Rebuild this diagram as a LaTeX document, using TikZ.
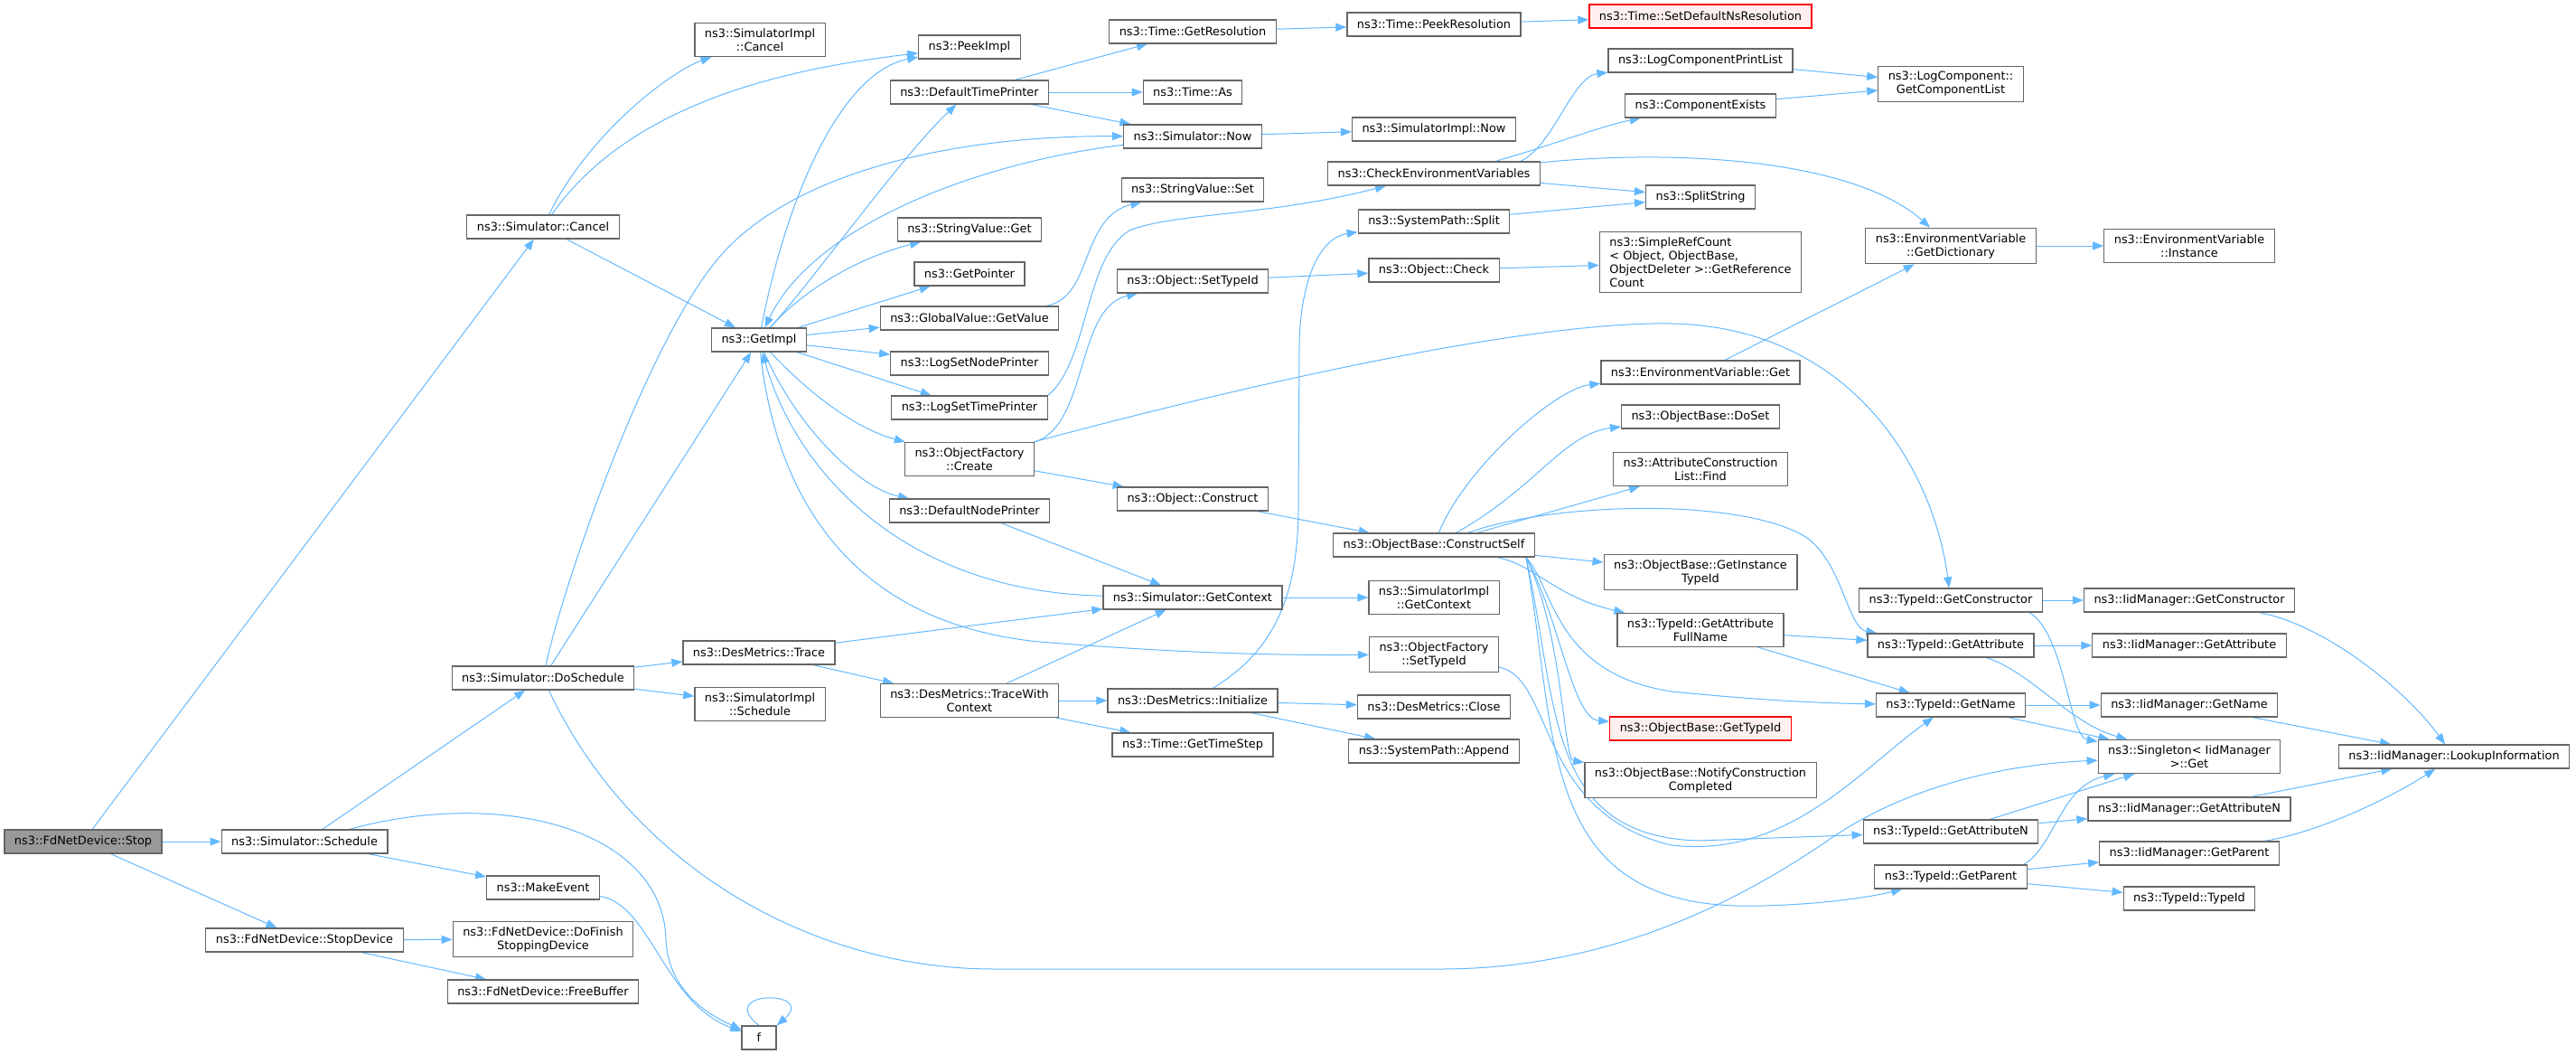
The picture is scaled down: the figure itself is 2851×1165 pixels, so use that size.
\documentclass[tikz,border=0pt]{standalone}
\usepackage{fontspec}
\setmainfont{DejaVu Sans}
\usepackage{tikz}
\usetikzlibrary{arrows.meta}
\usetikzlibrary{backgrounds}
\definecolor{edgeblue}{HTML}{63B8FF}
\definecolor{boxgray}{HTML}{666666}
\definecolor{rootgray}{HTML}{999999}
\definecolor{missfill}{HTML}{FFF0F0}

\begin{document}
\begin{tikzpicture}[x=1pt,y=-1pt,
  >={Triangle[length=12pt,width=9pt]},
  fn/.style={draw=boxgray,fill=white,line width=1.2pt,inner xsep=11pt,inner ysep=6pt,
    minimum height=26pt,align=center,font=\fontsize{12.9}{15}\selectfont},
  focus/.style={fill=rootgray},
  miss/.style={draw=red,fill=missfill},
  calls/.style={->,draw=edgeblue,line width=1pt}]
\useasboundingbox (0,0) rectangle (2851,1165);
\node[fn,focus] (Stop) at (92,931) {ns3::FdNetDevice::Stop};
\node[fn] (Cancel) at (601,251) {ns3::Simulator::Cancel};
\node[fn] (ImplCancel) at (841,44) {ns3::SimulatorImpl\\::Cancel};
\node[fn] (GetImpl) at (840,376) {ns3::GetImpl};
\node[fn] (Schedule) at (337,931) {ns3::Simulator::Schedule};
\node[fn] (DoSchedule) at (601,750) {ns3::Simulator::DoSchedule};
\node[fn] (Trace) at (840,722) {ns3::DesMetrics::Trace};
\node[fn] (ImplSchedule) at (841,779) {ns3::SimulatorImpl\\::Schedule};
\node[fn] (MakeEvent) at (601,982) {ns3::MakeEvent};
\node[fn] (StopDevice) at (337,1040) {ns3::FdNetDevice::StopDevice};
\node[fn] (DoFinish) at (601,1039) {ns3::FdNetDevice::DoFinish\\StoppingDevice};
\node[fn] (FreeBuffer) at (601,1097) {ns3::FdNetDevice::FreeBuffer};
\node[fn,minimum width=38pt] (F) at (840,1148) {f};
\node[fn] (PeekImpl) at (1073,52) {ns3::PeekImpl};
\node[fn] (TimePrinter) at (1073,102) {ns3::DefaultTimePrinter};
\node[fn] (StrGet) at (1073,254) {ns3::StringValue::Get};
\node[fn] (GetPointer) at (1073,303) {ns3::GetPointer};
\node[fn] (GvGet) at (1073,352) {ns3::GlobalValue::GetValue};
\node[fn] (LogNode) at (1073,402) {ns3::LogSetNodePrinter};
\node[fn] (LogTime) at (1073,451) {ns3::LogSetTimePrinter};
\node[fn] (OfCreate) at (1073,508) {ns3::ObjectFactory\\::Create};
\node[fn] (NodePrinter) at (1073,565) {ns3::DefaultNodePrinter};
\node[fn] (TraceCtx) at (1073,775) {ns3::DesMetrics::TraceWith\\Context};
\node[fn] (GetRes) at (1320,35) {ns3::Time::GetResolution};
\node[fn] (TimeAs) at (1320,102) {ns3::Time::As};
\node[fn] (Now) at (1320,151) {ns3::Simulator::Now};
\node[fn] (StrSet) at (1320,210) {ns3::StringValue::Set};
\node[fn] (ObjSetTid) at (1320,311) {ns3::Object::SetTypeId};
\node[fn] (Construct) at (1320,552) {ns3::Object::Construct};
\node[fn] (GetCtx) at (1320,661) {ns3::Simulator::GetContext};
\node[fn] (DmInit) at (1320,775) {ns3::DesMetrics::Initialize};
\node[fn] (TimeStep) at (1320,824) {ns3::Time::GetTimeStep};
\node[fn] (PeekRes) at (1587,27) {ns3::Time::PeekResolution};
\node[fn] (ImplNow) at (1587,143) {ns3::SimulatorImpl::Now};
\node[fn] (CheckEnv) at (1587,192) {ns3::CheckEnvironmentVariables};
\node[fn] (SpSplit) at (1587,245) {ns3::SystemPath::Split};
\node[fn] (ObjCheck) at (1587,299) {ns3::Object::Check};
\node[fn] (CSelf) at (1587,603) {ns3::ObjectBase::ConstructSelf};
\node[fn] (ImplCtx) at (1587,661) {ns3::SimulatorImpl\\::GetContext};
\node[fn] (OfSetTid) at (1587,724) {ns3::ObjectFactory\\::SetTypeId};
\node[fn] (DmClose) at (1587,782) {ns3::DesMetrics::Close};
\node[fn] (SpAppend) at (1587,831) {ns3::SystemPath::Append};
\node[fn,miss] (SetDefRes) at (1882,18) {ns3::Time::SetDefaultNsResolution};
\node[fn] (LogPrint) at (1882,67) {ns3::LogComponentPrintList};
\node[fn] (CompExists) at (1882,117) {ns3::ComponentExists};
\node[fn] (SplitStr) at (1882,218) {ns3::SplitString};
\node[fn,align=left] (RefCount) at (1882,290) {ns3::SimpleRefCount\\< Object, ObjectBase,\\ObjectDeleter >::GetReference\\Count};
\node[fn] (EnvGet) at (1882,412) {ns3::EnvironmentVariable::Get};
\node[fn] (DoSet) at (1882,461) {ns3::ObjectBase::DoSet};
\node[fn] (AttrFind) at (1882,519) {ns3::AttributeConstruction\\List::Find};
\node[fn] (InstTid) at (1882,633) {ns3::ObjectBase::GetInstance\\TypeId};
\node[fn] (AttrFull) at (1882,697) {ns3::TypeId::GetAttribute\\FullName};
\node[fn,miss] (ObGetTid) at (1882,806) {ns3::ObjectBase::GetTypeId};
\node[fn] (Notify) at (1882,863) {ns3::ObjectBase::NotifyConstruction\\Completed};
\node[fn] (CompList) at (2159,93) {ns3::LogComponent::\\GetComponentList};
\node[fn] (EnvDict) at (2159,272) {ns3::EnvironmentVariable\\::GetDictionary};
\node[fn] (GetCtor) at (2159,664) {ns3::TypeId::GetConstructor};
\node[fn] (GetAttr) at (2159,714) {ns3::TypeId::GetAttribute};
\node[fn] (GetName) at (2159,780) {ns3::TypeId::GetName};
\node[fn] (GetAttrN) at (2159,920) {ns3::TypeId::GetAttributeN};
\node[fn] (GetParent) at (2159,970) {ns3::TypeId::GetParent};
\node[fn] (EnvInst) at (2423,272) {ns3::EnvironmentVariable\\::Instance};
\node[fn] (IidCtor) at (2423,664) {ns3::IidManager::GetConstructor};
\node[fn] (IidAttr) at (2423,714) {ns3::IidManager::GetAttribute};
\node[fn] (IidName) at (2423,780) {ns3::IidManager::GetName};
\node[fn] (Singleton) at (2423,837) {ns3::Singleton< IidManager\\>::Get};
\node[fn] (IidAttrN) at (2423,895) {ns3::IidManager::GetAttributeN};
\node[fn] (IidParent) at (2423,944) {ns3::IidManager::GetParent};
\node[fn] (TidTid) at (2423,994) {ns3::TypeId::TypeId};
\node[fn] (Lookup) at (2716,837) {ns3::IidManager::LookupInformation};
\begin{scope}[on background layer]
\draw[calls] (Stop) -- (Cancel);
\draw[calls] (Stop) -- (Schedule);
\draw[calls] (Stop) -- (StopDevice);
\draw[calls] (Cancel) .. controls (650,150) and (740,80) .. (ImplCancel);
\draw[calls] (Cancel) .. controls (700,110) and (880,75) .. (PeekImpl);
\draw[calls] (Cancel) -- (GetImpl);
\draw[calls] (Schedule) -- (DoSchedule);
\draw[calls] (Schedule) -- (MakeEvent);
\draw[calls] (Schedule) .. controls (560,870) and (735,920) .. (737,1040) .. controls (740,1100) and (790,1125) .. (F);
\draw[calls] (MakeEvent) .. controls (720,1000) and (735,1110) .. (F);
\draw[calls] (F.north) .. controls (790,1095) and (905,1095) .. (F.north east);
\draw[calls] (StopDevice) -- (DoFinish);
\draw[calls] (StopDevice) -- (FreeBuffer);
\draw[calls] (DoSchedule) -- (Trace);
\draw[calls] (DoSchedule) -- (ImplSchedule);
\draw[calls] (DoSchedule) -- (GetImpl);
\draw[calls] (DoSchedule) .. controls (625,640) and (720,368) .. (800,280) .. controls (880,192) and (1050,150) .. (Now);
\draw[calls] (DoSchedule) .. controls (700,960) and (900,1072) .. (1100,1072) -- (1594,1072) .. controls (1800,1072) and (1950,980) .. (2030,925) .. controls (2120,865) and (2230,845) .. (Singleton);
\draw[calls] (Trace) -- (GetCtx);
\draw[calls] (Trace) -- (TraceCtx);
\draw[calls] (GetImpl) .. controls (870,220) and (930,80) .. (PeekImpl);
\draw[calls] (GetImpl) .. controls (900,310) and (1000,170) .. (TimePrinter);
\draw[calls] (GetImpl) .. controls (890,320) and (950,285) .. (StrGet);
\draw[calls] (GetImpl) -- (GetPointer);
\draw[calls] (GetImpl) -- (GvGet);
\draw[calls] (GetImpl) -- (LogNode);
\draw[calls] (GetImpl) -- (LogTime);
\draw[calls] (GetImpl) .. controls (900,440) and (950,475) .. (OfCreate);
\draw[calls] (GetImpl) .. controls (880,470) and (950,540) .. (NodePrinter);
\draw[calls] (GetImpl) .. controls (860,560) and (950,690) .. (1150,710) .. controls (1300,722) and (1400,725) .. (OfSetTid);
\draw[calls] (GetCtx) .. controls (1000,655) and (880,520) .. (GetImpl);
\draw[calls] (Now) .. controls (1080,180) and (900,250) .. (GetImpl);
\draw[calls] (TimePrinter) -- (GetRes);
\draw[calls] (TimePrinter) -- (TimeAs);
\draw[calls] (TimePrinter) -- (Now);
\draw[calls] (GetRes) -- (PeekRes);
\draw[calls] (PeekRes) -- (SetDefRes);
\draw[calls] (Now) -- (ImplNow);
\draw[calls] (GvGet) .. controls (1210,330) and (1195,240) .. (StrSet);
\draw[calls] (LogTime.north east) .. controls (1205,400) and (1200,285) .. (1250,255) .. controls (1300,235) and (1400,240) .. (CheckEnv);
\draw[calls] (OfCreate.north east) .. controls (1205,470) and (1190,340) .. (ObjSetTid);
\draw[calls] (OfCreate) -- (Construct);
\draw[calls] (OfCreate) .. controls (1400,420) and (1700,355) .. (1850,358) .. controls (2050,362) and (2140,520) .. (GetCtor);
\draw[calls] (ObjSetTid) -- (ObjCheck);
\draw[calls] (ObjCheck) -- (RefCount);
\draw[calls] (Construct) -- (CSelf);
\draw[calls] (GetCtx) -- (ImplCtx);
\draw[calls] (NodePrinter) -- (GetCtx);
\draw[calls] (TraceCtx) -- (GetCtx);
\draw[calls] (TraceCtx) -- (DmInit);
\draw[calls] (TraceCtx) -- (TimeStep);
\draw[calls] (DmInit) -- (DmClose);
\draw[calls] (DmInit) -- (SpAppend);
\draw[calls] (DmInit) .. controls (1410,720) and (1437,660) .. (1437,560) -- (1438,380) .. controls (1440,300) and (1465,262) .. (SpSplit);
\draw[calls] ([xshift=-22pt]CheckEnv.north east) .. controls (1720,160) and (1740,85) .. (LogPrint);
\draw[calls] ([xshift=-50pt]CheckEnv.north east) .. controls (1720,160) and (1770,140) .. (CompExists);
\draw[calls] (CheckEnv) -- (SplitStr);
\draw[calls] (CheckEnv) .. controls (1850,165) and (2050,175) .. (EnvDict);
\draw[calls] (SpSplit) -- (SplitStr);
\draw[calls] (LogPrint) -- (CompList);
\draw[calls] (CompExists) -- (CompList);
\draw[calls] (EnvGet) -- (EnvDict);
\draw[calls] (EnvDict) -- (EnvInst);
\draw[calls] (CSelf) .. controls (1620,520) and (1720,430) .. (EnvGet);
\draw[calls] (CSelf) .. controls (1700,540) and (1730,480) .. (DoSet);
\draw[calls] (CSelf) -- (AttrFind);
\draw[calls] (CSelf) .. controls (1720,555) and (1930,550) .. (2000,595) .. controls (2040,625) and (2045,695) .. (GetAttr);
\draw[calls] (CSelf) -- (InstTid);
\draw[calls] (CSelf) .. controls (1700,625) and (1720,660) .. (AttrFull);
\draw[calls] ([xshift=-10pt]CSelf.south east) .. controls (1720,650) and (1720,745) .. (1850,765) .. controls (1950,775) and (2020,778) .. (GetName);
\draw[calls] ([xshift=-10pt]CSelf.south east) .. controls (1725,680) and (1740,795) .. (ObGetTid);
\draw[calls] ([xshift=-10pt]CSelf.south east) .. controls (1730,700) and (1730,840) .. (Notify);
\draw[calls] ([xshift=-10pt]CSelf.south east) .. controls (1725,780) and (1710,925) .. (1880,930) -- (GetAttrN);
\draw[calls] ([xshift=-10pt]CSelf.south east) .. controls (1725,820) and (1700,1010) .. (1950,1002) .. controls (2030,1000) and (2080,990) .. (GetParent);
\draw[calls] (OfSetTid) .. controls (1720,750) and (1700,900) .. (1850,935) .. controls (1980,950) and (2060,850) .. (GetName);
\draw[calls] (AttrFull) -- (GetAttr);
\draw[calls] (AttrFull) -- (GetName);
\draw[calls] (GetCtor) -- (IidCtor);
\draw[calls] ([xshift=-15pt]GetCtor.south east) .. controls (2285,700) and (2290,815) .. (Singleton);
\draw[calls] (GetAttr) -- (IidAttr);
\draw[calls] (GetAttr) .. controls (2250,745) and (2290,800) .. (Singleton);
\draw[calls] (GetName) -- (IidName);
\draw[calls] (GetName) -- (Singleton);
\draw[calls] (GetAttrN) -- (IidAttrN);
\draw[calls] (GetAttrN) -- (Singleton);
\draw[calls] (GetParent) -- (IidParent);
\draw[calls] (GetParent) -- (TidTid);
\draw[calls] ([xshift=-4pt]GetParent.north east) .. controls (2275,935) and (2280,870) .. (Singleton);
\draw[calls] (IidCtor) .. controls (2570,690) and (2660,760) .. (Lookup);
\draw[calls] (IidName) -- (Lookup);
\draw[calls] (IidAttrN) -- (Lookup);
\draw[calls] (IidParent) .. controls (2570,920) and (2650,880) .. (Lookup);
\end{scope}
\end{tikzpicture}
\end{document}
